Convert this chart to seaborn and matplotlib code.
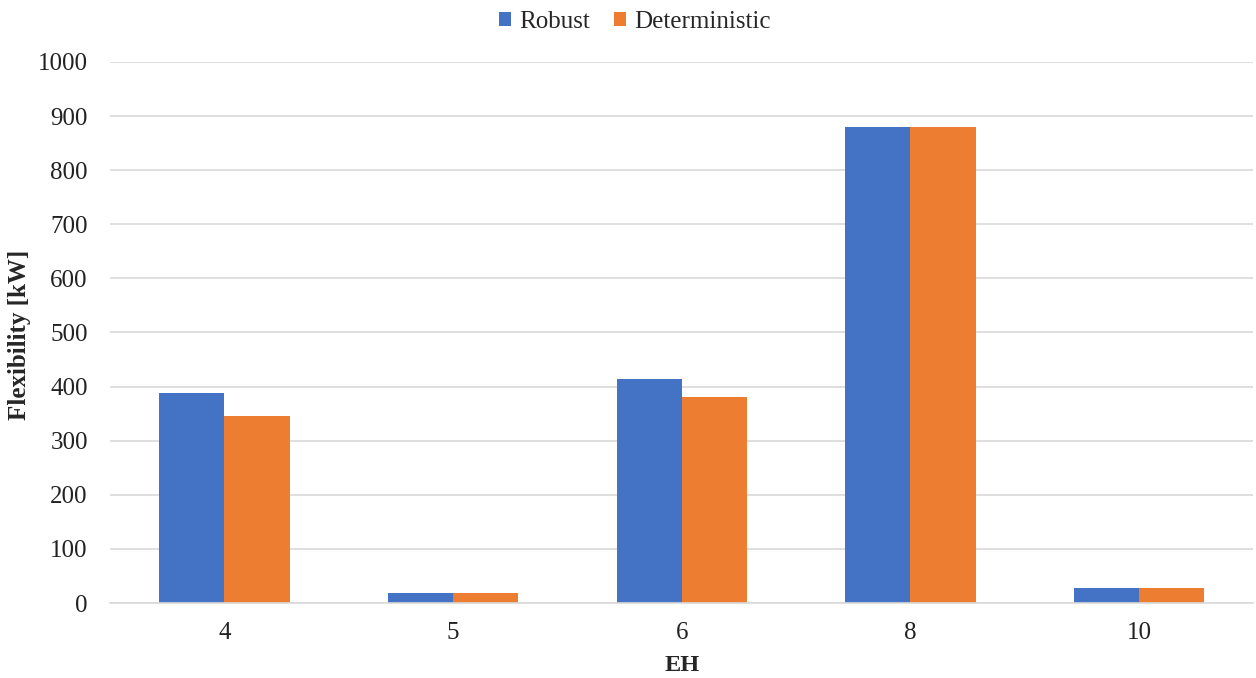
import matplotlib
matplotlib.use("Agg")
import matplotlib.pyplot as plt
import seaborn as sns
import pandas as pd

# Flexibility per energy hub, robust vs deterministic scheduling
eh_labels = ["4", "5", "6", "8", "10"]
robust = [388, 18, 414, 880, 28]
deterministic = [345, 18, 380, 880, 28]
series_names = ["Robust", "Deterministic"]
y_ticks = [0, 100, 200, 300, 400, 500, 600, 700, 800, 900, 1000]

df = pd.DataFrame({
    "EH": eh_labels * 2,
    "Flexibility": robust + deterministic,
    "Model": [series_names[0]] * len(eh_labels) + [series_names[1]] * len(eh_labels),
})

sns.set_theme(style="white")
plt.rcParams["font.family"] = ["Liberation Serif", "DejaVu Serif"]

fig = plt.figure(figsize=(12.56, 6.78), dpi=100)
ax = fig.add_axes([0.0876, 0.1106, 0.9104, 0.798])

palette = {"Robust": "#4472C4", "Deterministic": "#ED7D31"}
sns.barplot(data=df, x="EH", y="Flexibility", hue="Model", order=eh_labels,
            hue_order=series_names, palette=palette, width=0.57,
            saturation=1, ax=ax, legend=True, edgecolor="none", linewidth=0)

ax.set_xlim(-0.5, len(eh_labels) - 0.5)
ax.set_ylim(0, 1000)
ax.set_yticks(y_ticks)
ax.yaxis.grid(True, color="#d9d9d9", linewidth=1.2)
ax.set_axisbelow(True)
for side in ["left", "right", "top"]:
    ax.spines[side].set_visible(False)
ax.spines["bottom"].set_color("#d9d9d9")
ax.spines["bottom"].set_linewidth(1.2)
ax.tick_params(axis="both", length=0, labelsize=18, colors="#222222")
ax.tick_params(axis="x", pad=14)
ax.tick_params(axis="y", pad=16)

ax.set_xlabel("EH", fontsize=17.5, fontweight="bold")
ax.set_ylabel("Flexibility [kW]", fontsize=18, fontweight="bold")
ax.xaxis.set_label_coords(0.5, -0.097)
ax.yaxis.set_label_coords(-0.069, 0.495)

ax.legend(loc="center", bbox_to_anchor=(0.459, 1.074), ncol=2, frameon=False,
          fontsize=18, handlelength=0.48, handleheight=0.48, handletextpad=0.3,
          columnspacing=1.0)

fig.savefig("out.png", dpi=100)
